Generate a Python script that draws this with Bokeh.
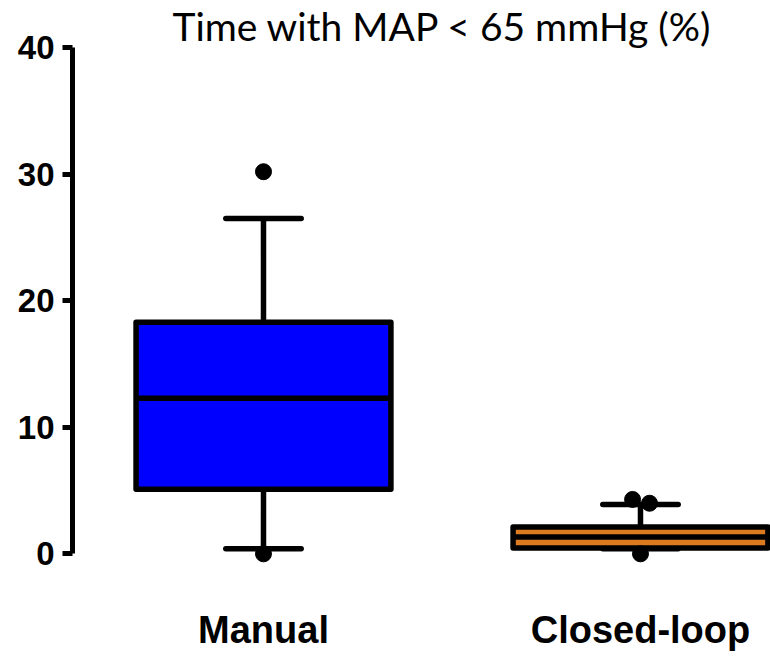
import numpy as np
from bokeh.plotting import figure
from bokeh.models import Range1d, FixedTicker, Label
from bokeh.embed import file_html
from bokeh.resources import INLINE

# ---- data ----
categories = ["Manual", "Closed-loop"]
lower_whisker = [0.4, 0.4]
q1 = [5.1, 0.47]
median = [12.3, 1.34]
q3 = [18.3, 2.13]
upper_whisker = [26.5, 3.9]
box_colors = ["#0000FF", "#DB7A1E"]

outlier_group = [0, 0, 1, 1, 1]
outlier_values = [30.2, 0.0, 4.3, 4.0, 0.0]
outlier_jitter = [0.0, 0.0, -0.021, 0.024, 0.0]

y_ticks = [0, 10, 20, 30, 40]
title_text = "Time with MAP < 65 mmHg (%)"

# ---- layout constants ----
pos = np.arange(1, len(categories) + 1)
box_w = 0.676
cap_w = 0.2
x_start = 0.4934
frame_w = 698
px_per_unit = 377.0
x_end = x_start + frame_w / px_per_unit

p = figure(
    output_backend="svg", toolbar_location=None,
    frame_width=frame_w, frame_height=558,
    x_range=Range1d(x_start, x_end), y_range=Range1d(-1.0, 43.1),
    min_border_left=72, min_border_right=0, min_border_top=8, min_border_bottom=0,
)
p.outline_line_color = None
p.xgrid.visible = False
p.ygrid.visible = False
p.background_fill_color = "white"
p.border_fill_color = "white"

# y axis
ya = p.yaxis[0]
ya.ticker = FixedTicker(ticks=y_ticks)
ya.bounds = (0, 40)
ya.axis_line_width = 5
ya.major_tick_line_width = 5
ya.major_tick_out = 10
ya.major_tick_in = 0
ya.minor_tick_line_color = None
ya.major_label_standoff = 8
ya.major_label_text_font = "Liberation Sans"
ya.major_label_text_font_style = "bold"
ya.major_label_text_font_size = "33px"
ya.major_label_text_color = "black"

# x axis
xa = p.xaxis[0]
xa.ticker = FixedTicker(ticks=list(pos))
xa.major_label_overrides = {int(k): c for k, c in zip(pos, categories)}
xa.axis_line_color = None
xa.major_tick_line_color = None
xa.minor_tick_line_color = None
xa.major_tick_out = 0
xa.major_label_standoff = 42
xa.major_label_text_font = "Liberation Sans"
xa.major_label_text_font_style = "bold"
xa.major_label_text_font_size = "38px"
xa.major_label_text_color = "black"

lw = 5.5
# whiskers
p.segment(x0=pos, x1=pos, y0=q3, y1=upper_whisker, line_color="black", line_width=lw)
p.segment(x0=pos, x1=pos, y0=q1, y1=lower_whisker, line_color="black", line_width=lw)
p.segment(x0=pos - cap_w / 2, x1=pos + cap_w / 2, y0=upper_whisker, y1=upper_whisker,
          line_color="black", line_width=lw, line_cap="round")
p.segment(x0=pos - cap_w / 2, x1=pos + cap_w / 2, y0=lower_whisker, y1=lower_whisker,
          line_color="black", line_width=lw, line_cap="round")
# boxes
p.vbar(x=pos, width=box_w, bottom=q1, top=q3, fill_color=box_colors,
       line_color="black", line_width=lw, line_join="round")
p.segment(x0=pos - box_w / 2, x1=pos + box_w / 2, y0=median, y1=median,
          line_color="black", line_width=lw)
# outliers
ox = pos[np.array(outlier_group)] + np.array(outlier_jitter)
p.scatter(x=ox, y=outlier_values, size=16, color="black")

# title
p.add_layout(Label(x=0.7586, y=41.75, text=title_text, text_font="Lato",
                   text_font_size="39px", text_color="black",
                   text_baseline="alphabetic", text_align="left"))

open("out.html", "w").write(file_html(p, INLINE))
